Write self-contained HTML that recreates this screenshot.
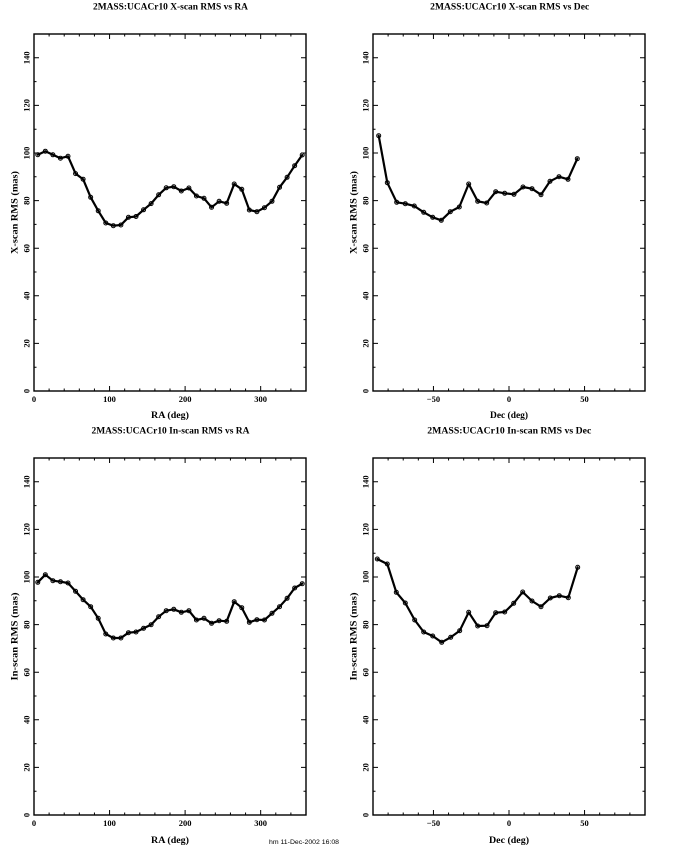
<!DOCTYPE html>
<html>
<head>
<meta charset="utf-8">
<style>
html,body{margin:0;padding:0;background:#fff;}
svg{display:block;}
text{font-family:"Liberation Serif",serif;fill:#000;font-weight:bold;}
</style>
</head>
<body>
<svg width="680" height="850" viewBox="0 0 680 850" xmlns="http://www.w3.org/2000/svg">
<defs>
<path id="yt" fill="none" stroke="#000" stroke-width="1" d="M0 333.2h2.5M0 285.6h2.5M0 238h2.5M0 190.4h2.5M0 142.8h2.5M0 95.2h2.5M0 47.6h2.5M0 309.4h5M0 261.8h5M0 214.2h5M0 166.6h5M0 119h5M0 71.4h5M0 23.8h5M272 333.2h-2.5M272 285.6h-2.5M272 238h-2.5M272 190.4h-2.5M272 142.8h-2.5M272 95.2h-2.5M272 47.6h-2.5M272 309.4h-5M272 261.8h-5M272 214.2h-5M272 166.6h-5M272 119h-5M272 71.4h-5M272 23.8h-5"/>
<path id="xra" fill="none" stroke="#000" stroke-width="1" d="M15.11 357v-2.5M30.22 357v-2.5M45.33 357v-2.5M60.44 357v-2.5M75.56 357v-5M90.67 357v-2.5M105.78 357v-2.5M120.89 357v-2.5M136 357v-2.5M151.11 357v-5M166.22 357v-2.5M181.33 357v-2.5M196.44 357v-2.5M211.56 357v-2.5M226.67 357v-5M241.78 357v-2.5M256.89 357v-2.5M15.11 0v2.5M30.22 0v2.5M45.33 0v2.5M60.44 0v2.5M75.56 0v5M90.67 0v2.5M105.78 0v2.5M120.89 0v2.5M136 0v2.5M151.11 0v5M166.22 0v2.5M181.33 0v2.5M196.44 0v2.5M211.56 0v2.5M226.67 0v5M241.78 0v2.5M256.89 0v2.5"/>
<path id="xdec" fill="none" stroke="#000" stroke-width="1" d="M15.11 357v-2.5M30.22 357v-2.5M45.33 357v-2.5M60.44 357v-5M75.56 357v-2.5M90.67 357v-2.5M105.78 357v-2.5M120.89 357v-2.5M136 357v-5M151.11 357v-2.5M166.22 357v-2.5M181.33 357v-2.5M196.44 357v-2.5M211.56 357v-5M226.67 357v-2.5M241.78 357v-2.5M256.89 357v-2.5M15.11 0v2.5M30.22 0v2.5M45.33 0v2.5M60.44 0v5M75.56 0v2.5M90.67 0v2.5M105.78 0v2.5M120.89 0v2.5M136 0v5M151.11 0v2.5M166.22 0v2.5M181.33 0v2.5M196.44 0v2.5M211.56 0v5M226.67 0v2.5M241.78 0v2.5M256.89 0v2.5"/>
<g id="ylab" font-size="8.5" text-anchor="middle">
<text transform="translate(-4.6,357) rotate(-90)">0</text>
<text transform="translate(-4.6,309.4) rotate(-90)">20</text>
<text transform="translate(-4.6,261.8) rotate(-90)">40</text>
<text transform="translate(-4.6,214.2) rotate(-90)">60</text>
<text transform="translate(-4.6,166.6) rotate(-90)">80</text>
<text transform="translate(-4.6,119) rotate(-90)">100</text>
<text transform="translate(-4.6,71.4) rotate(-90)">120</text>
<text transform="translate(-4.6,23.8) rotate(-90)">140</text>
</g>
<g id="xlra" font-size="8.5" text-anchor="middle">
<text x="0" y="368">0</text>
<text x="75.56" y="368">100</text>
<text x="151.11" y="368">200</text>
<text x="226.67" y="368">300</text>
</g>
<g id="xldec" font-size="8.5" text-anchor="middle">
<text x="60.44" y="368">−50</text>
<text x="136" y="368">0</text>
<text x="211.56" y="368">50</text>
</g>
</defs>

<!-- Top-left panel -->
<g transform="translate(34,34)">
<rect x="0" y="0" width="272" height="357" fill="none" stroke="#000" stroke-width="1.4"/>
<use href="#yt"/><use href="#xra"/><use href="#ylab"/><use href="#xlra"/>
<text x="136.5" y="-24.7" font-size="9" text-anchor="middle" textLength="155" lengthAdjust="spacingAndGlyphs">2MASS:UCACr10 X-scan RMS vs RA</text>
<text x="136" y="384" font-size="9" text-anchor="middle" textLength="38" lengthAdjust="spacingAndGlyphs">RA (deg)</text>
<text transform="translate(-16.3,178.5) rotate(-90)" font-size="9" text-anchor="middle" textLength="83" lengthAdjust="spacingAndGlyphs">X-scan RMS (mas)</text>
</g>

<!-- Top-right panel -->
<g transform="translate(373,34)">
<rect x="0" y="0" width="272" height="357" fill="none" stroke="#000" stroke-width="1.4"/>
<use href="#yt"/><use href="#xdec"/><use href="#ylab"/><use href="#xldec"/>
<text x="136.7" y="-24.7" font-size="9" text-anchor="middle" textLength="159" lengthAdjust="spacingAndGlyphs">2MASS:UCACr10 X-scan RMS vs Dec</text>
<text x="136" y="384" font-size="9" text-anchor="middle" textLength="38" lengthAdjust="spacingAndGlyphs">Dec (deg)</text>
<text transform="translate(-16.3,178.5) rotate(-90)" font-size="9" text-anchor="middle" textLength="83" lengthAdjust="spacingAndGlyphs">X-scan RMS (mas)</text>
</g>

<!-- Bottom-left panel -->
<g transform="translate(34,458)">
<rect x="0" y="0" width="272" height="357" fill="none" stroke="#000" stroke-width="1.4"/>
<use href="#yt"/><use href="#xra"/><use href="#ylab"/><use href="#xlra"/>
<text x="136.5" y="-24.5" font-size="9" text-anchor="middle" textLength="158" lengthAdjust="spacingAndGlyphs">2MASS:UCACr10 In-scan RMS vs RA</text>
<text x="136" y="385" font-size="9" text-anchor="middle" textLength="38" lengthAdjust="spacingAndGlyphs">RA (deg)</text>
<text transform="translate(-16.3,178.5) rotate(-90)" font-size="9" text-anchor="middle" textLength="88" lengthAdjust="spacingAndGlyphs">In-scan RMS (mas)</text>
</g>

<!-- Bottom-right panel -->
<g transform="translate(373,458)">
<rect x="0" y="0" width="272" height="357" fill="none" stroke="#000" stroke-width="1.4"/>
<use href="#yt"/><use href="#xdec"/><use href="#ylab"/><use href="#xldec"/>
<text x="136.3" y="-24.5" font-size="9" text-anchor="middle" textLength="164" lengthAdjust="spacingAndGlyphs">2MASS:UCACr10 In-scan RMS vs Dec</text>
<text x="136" y="385" font-size="9" text-anchor="middle" textLength="40" lengthAdjust="spacingAndGlyphs">Dec (deg)</text>
<text transform="translate(-16.3,178.5) rotate(-90)" font-size="9" text-anchor="middle" textLength="88" lengthAdjust="spacingAndGlyphs">In-scan RMS (mas)</text>
</g>

<!-- Data series -->
<g fill="none" stroke="#000" stroke-linejoin="round" stroke-linecap="round">
<polyline stroke-width="2.2" points="37.78,154.7 45.33,151.2 52.89,154.8 60.44,158.2 68,156.3 75.56,173.6 83.11,179.2 90.67,197.3 98.22,210.8 105.78,223 113.33,225.7 120.89,225 128.44,217.3 136,216.5 143.56,209.8 151.11,203.6 158.67,194.8 166.22,187.8 173.78,186.7 181.33,191 188.89,188 196.44,196 204,198.3 211.56,207.3 219.11,201.3 226.67,203.3 234.22,184 241.78,189.3 249.33,210 256.89,211.7 264.44,207.7 272,201.3 279.56,187.3 287.11,177.3 294.67,165.7 302.22,155"/>
<polyline stroke-width="2.2" points="378.7,135.7 387.3,182.7 396.7,202.3 405.3,203.7 414.3,206 423.7,212.3 432.7,217.3 441.3,220.3 450.3,211.7 459.3,207 468.7,184 477.7,201.3 486.7,203 495.7,191.7 504.7,193.3 514,194.3 523,187 532,188.7 541,194.7 550,181.3 559,176.7 568,179.3 577.3,158.7"/>
<polyline stroke-width="2.2" points="37.78,582.3 45.33,574.7 52.89,580.7 60.44,581.7 68,583 75.56,591.3 83.11,599.7 90.67,606.7 98.22,618.3 105.78,634 113.33,638 120.89,638 128.44,632.7 136,632 143.56,628.3 151.11,624.7 158.67,616.7 166.22,610.7 173.78,609.3 181.33,612.3 188.89,610.7 196.44,620 204,618.3 211.56,623.3 219.11,620.7 226.67,621.3 234.22,601.7 241.78,607.7 249.33,622.3 256.89,619.7 264.44,620 272,613.3 279.56,606.7 287.11,598.3 294.67,588 302.22,583.7"/>
<polyline stroke-width="2.2" points="377.3,559 387.3,564 396.3,592.3 405.3,603 414.7,620 423.7,632 432.7,636 441.7,642.3 450.7,637.3 459.7,630.7 468.7,612.3 477.7,626 487,625.7 495.7,612.7 504.7,612 513.7,603.3 522.7,592 532,601 541,606.7 550.3,598 559.3,595.7 568.3,597.7 577.7,567.3"/>
</g>

<!-- Markers -->
<g fill="none" stroke="#000" stroke-width="1">
<circle cx="37.78" cy="154.7" r="2"/><circle cx="45.33" cy="151.2" r="2"/><circle cx="52.89" cy="154.8" r="2"/><circle cx="60.44" cy="158.2" r="2"/><circle cx="68" cy="156.3" r="2"/><circle cx="75.56" cy="173.6" r="2"/><circle cx="83.11" cy="179.2" r="2"/><circle cx="90.67" cy="197.3" r="2"/><circle cx="98.22" cy="210.8" r="2"/><circle cx="105.78" cy="223" r="2"/><circle cx="113.33" cy="225.7" r="2"/><circle cx="120.89" cy="225" r="2"/><circle cx="128.44" cy="217.3" r="2"/><circle cx="136" cy="216.5" r="2"/><circle cx="143.56" cy="209.8" r="2"/><circle cx="151.11" cy="203.6" r="2"/><circle cx="158.67" cy="194.8" r="2"/><circle cx="166.22" cy="187.8" r="2"/><circle cx="173.78" cy="186.7" r="2"/><circle cx="181.33" cy="191" r="2"/><circle cx="188.89" cy="188" r="2"/><circle cx="196.44" cy="196" r="2"/><circle cx="204" cy="198.3" r="2"/><circle cx="211.56" cy="207.3" r="2"/><circle cx="219.11" cy="201.3" r="2"/><circle cx="226.67" cy="203.3" r="2"/><circle cx="234.22" cy="184" r="2"/><circle cx="241.78" cy="189.3" r="2"/><circle cx="249.33" cy="210" r="2"/><circle cx="256.89" cy="211.7" r="2"/><circle cx="264.44" cy="207.7" r="2"/><circle cx="272" cy="201.3" r="2"/><circle cx="279.56" cy="187.3" r="2"/><circle cx="287.11" cy="177.3" r="2"/><circle cx="294.67" cy="165.7" r="2"/><circle cx="302.22" cy="155" r="2"/>
<circle cx="378.7" cy="135.7" r="2"/><circle cx="387.3" cy="182.7" r="2"/><circle cx="396.7" cy="202.3" r="2"/><circle cx="405.3" cy="203.7" r="2"/><circle cx="414.3" cy="206" r="2"/><circle cx="423.7" cy="212.3" r="2"/><circle cx="432.7" cy="217.3" r="2"/><circle cx="441.3" cy="220.3" r="2"/><circle cx="450.3" cy="211.7" r="2"/><circle cx="459.3" cy="207" r="2"/><circle cx="468.7" cy="184" r="2"/><circle cx="477.7" cy="201.3" r="2"/><circle cx="486.7" cy="203" r="2"/><circle cx="495.7" cy="191.7" r="2"/><circle cx="504.7" cy="193.3" r="2"/><circle cx="514" cy="194.3" r="2"/><circle cx="523" cy="187" r="2"/><circle cx="532" cy="188.7" r="2"/><circle cx="541" cy="194.7" r="2"/><circle cx="550" cy="181.3" r="2"/><circle cx="559" cy="176.7" r="2"/><circle cx="568" cy="179.3" r="2"/><circle cx="577.3" cy="158.7" r="2"/>
<circle cx="37.78" cy="582.3" r="2"/><circle cx="45.33" cy="574.7" r="2"/><circle cx="52.89" cy="580.7" r="2"/><circle cx="60.44" cy="581.7" r="2"/><circle cx="68" cy="583" r="2"/><circle cx="75.56" cy="591.3" r="2"/><circle cx="83.11" cy="599.7" r="2"/><circle cx="90.67" cy="606.7" r="2"/><circle cx="98.22" cy="618.3" r="2"/><circle cx="105.78" cy="634" r="2"/><circle cx="113.33" cy="638" r="2"/><circle cx="120.89" cy="638" r="2"/><circle cx="128.44" cy="632.7" r="2"/><circle cx="136" cy="632" r="2"/><circle cx="143.56" cy="628.3" r="2"/><circle cx="151.11" cy="624.7" r="2"/><circle cx="158.67" cy="616.7" r="2"/><circle cx="166.22" cy="610.7" r="2"/><circle cx="173.78" cy="609.3" r="2"/><circle cx="181.33" cy="612.3" r="2"/><circle cx="188.89" cy="610.7" r="2"/><circle cx="196.44" cy="620" r="2"/><circle cx="204" cy="618.3" r="2"/><circle cx="211.56" cy="623.3" r="2"/><circle cx="219.11" cy="620.7" r="2"/><circle cx="226.67" cy="621.3" r="2"/><circle cx="234.22" cy="601.7" r="2"/><circle cx="241.78" cy="607.7" r="2"/><circle cx="249.33" cy="622.3" r="2"/><circle cx="256.89" cy="619.7" r="2"/><circle cx="264.44" cy="620" r="2"/><circle cx="272" cy="613.3" r="2"/><circle cx="279.56" cy="606.7" r="2"/><circle cx="287.11" cy="598.3" r="2"/><circle cx="294.67" cy="588" r="2"/><circle cx="302.22" cy="583.7" r="2"/>
<circle cx="377.3" cy="559" r="2"/><circle cx="387.3" cy="564" r="2"/><circle cx="396.3" cy="592.3" r="2"/><circle cx="405.3" cy="603" r="2"/><circle cx="414.7" cy="620" r="2"/><circle cx="423.7" cy="632" r="2"/><circle cx="432.7" cy="636" r="2"/><circle cx="441.7" cy="642.3" r="2"/><circle cx="450.7" cy="637.3" r="2"/><circle cx="459.7" cy="630.7" r="2"/><circle cx="468.7" cy="612.3" r="2"/><circle cx="477.7" cy="626" r="2"/><circle cx="487" cy="625.7" r="2"/><circle cx="495.7" cy="612.7" r="2"/><circle cx="504.7" cy="612" r="2"/><circle cx="513.7" cy="603.3" r="2"/><circle cx="522.7" cy="592" r="2"/><circle cx="532" cy="601" r="2"/><circle cx="541" cy="606.7" r="2"/><circle cx="550.3" cy="598" r="2"/><circle cx="559.3" cy="595.7" r="2"/><circle cx="568.3" cy="597.7" r="2"/><circle cx="577.7" cy="567.3" r="2"/>
</g>

<!-- Footer -->
<text x="269" y="844" font-size="6" textLength="70" lengthAdjust="spacingAndGlyphs" style="font-family:'Liberation Sans',sans-serif;font-weight:normal">hm 11-Dec-2002 16:08</text>
</svg>
</body>
</html>
